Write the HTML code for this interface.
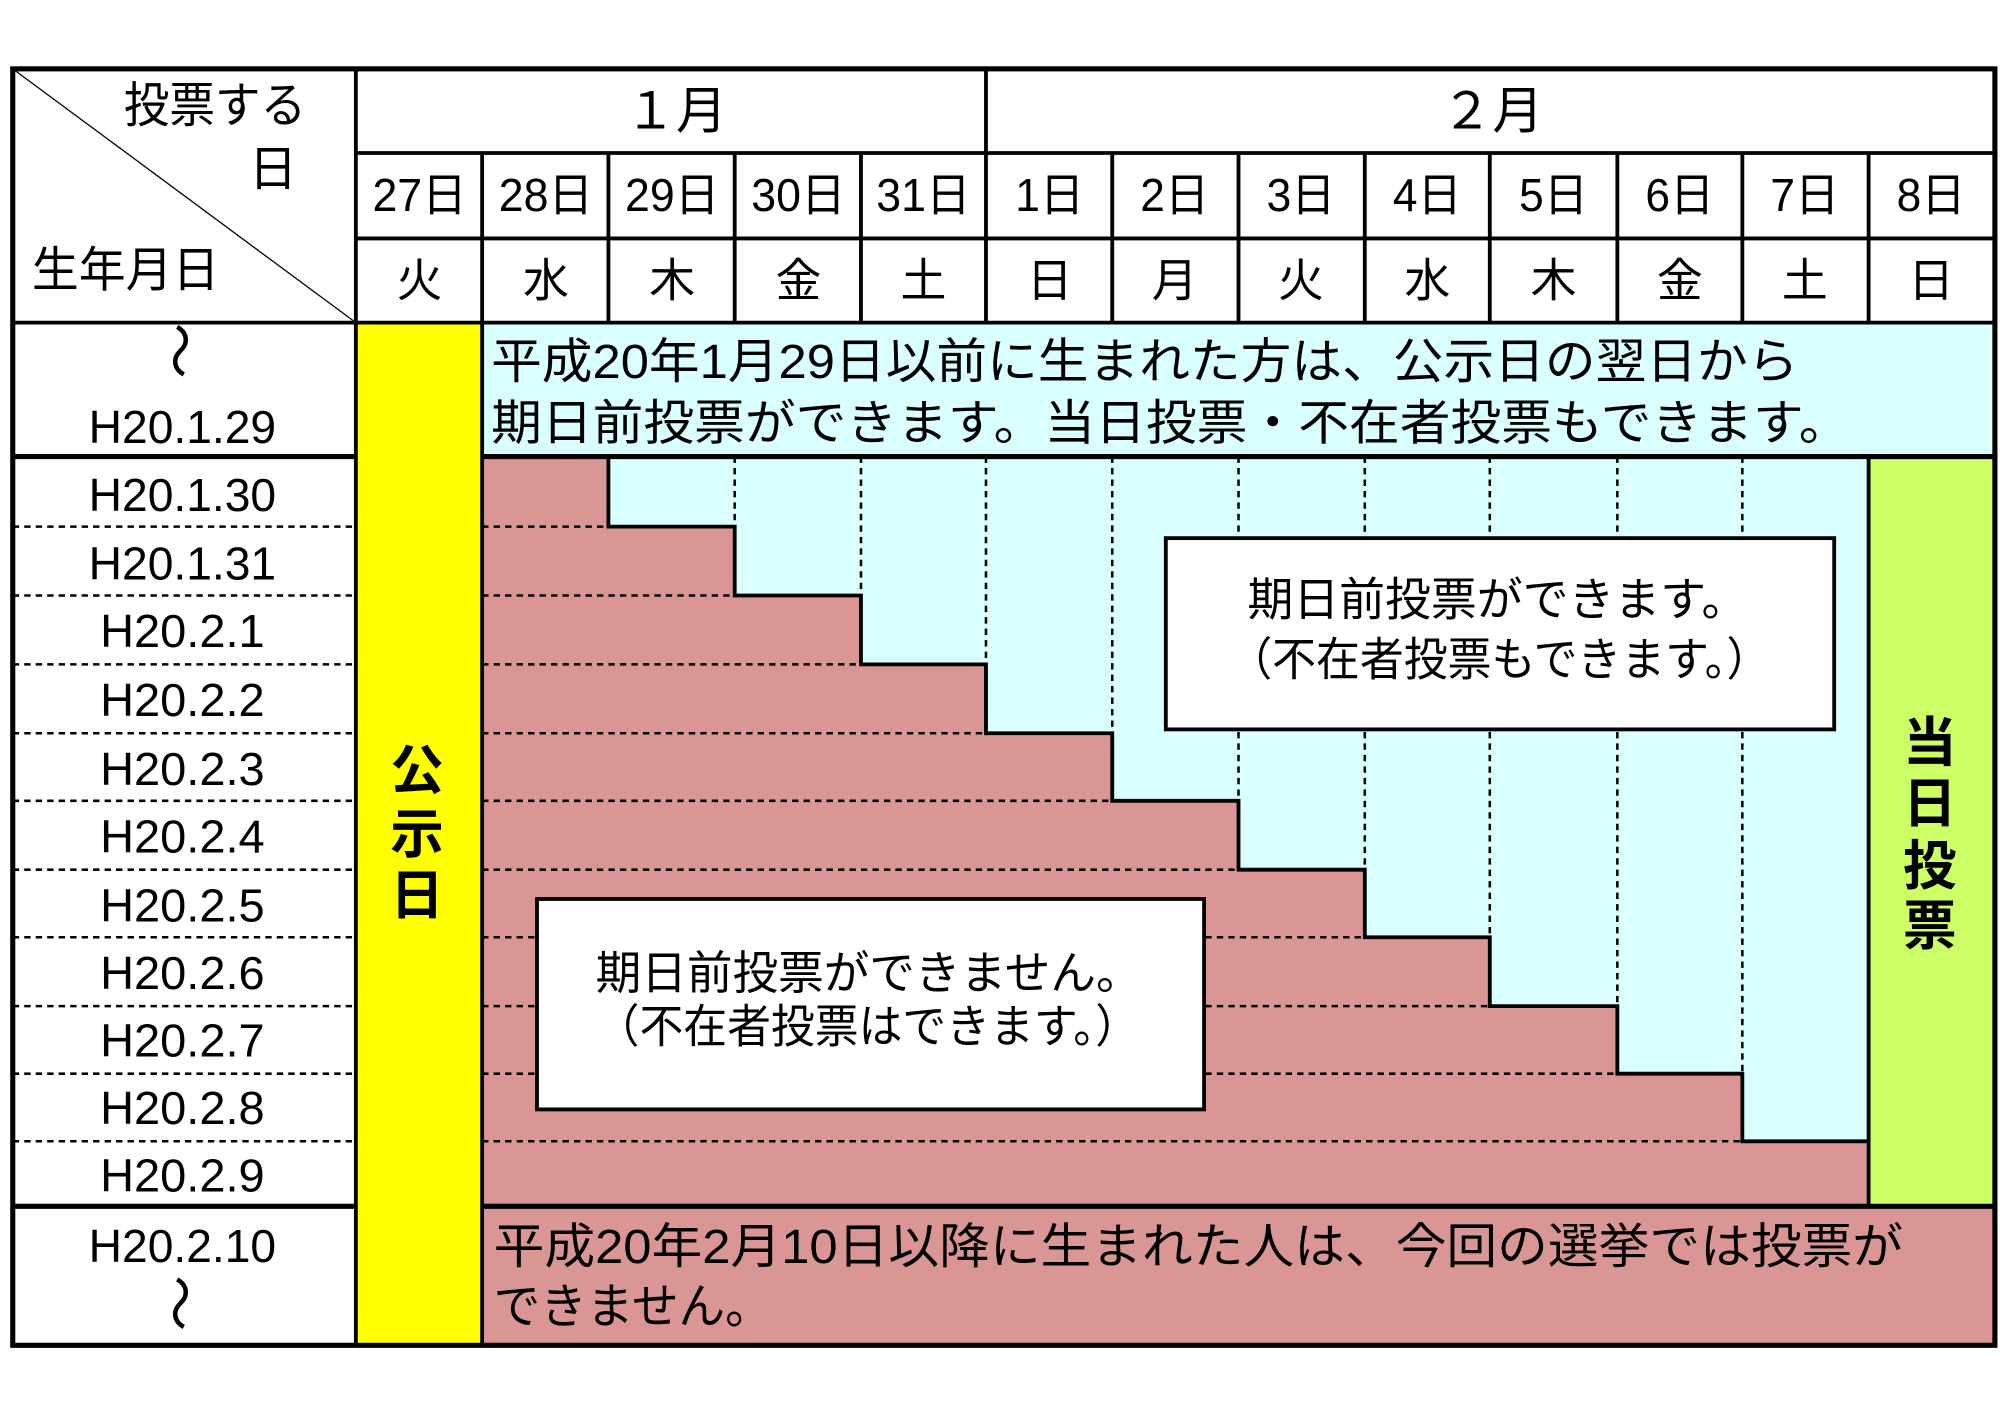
<!DOCTYPE html>
<html><head><meta charset="utf-8"><style>
html,body{margin:0;padding:0;background:#fff}
svg{display:block}
text{font-family:"Liberation Sans","Noto Sans CJK JP",sans-serif;fill:#000;dominant-baseline:central}
</style></head><body>
<svg width="2000" height="1418" viewBox="0 0 1568 1112" preserveAspectRatio="none" xmlns="http://www.w3.org/2000/svg">
<rect x="0" y="0" width="1568" height="1112" fill="#fff"/>
<rect x="279" y="253" width="99" height="802" fill="#ffff00"/>
<rect x="378" y="253" width="1186" height="105" fill="#d9ffff"/>
<rect x="378" y="358" width="1087" height="588" fill="#d9ffff"/>
<rect x="1465" y="358" width="99" height="588" fill="#ccff66"/>
<rect x="378" y="946" width="1186" height="109" fill="#d99694"/>
<g fill="#d99694">
<rect x="378" y="358" width="99" height="55"/>
<rect x="378" y="413" width="198" height="54"/>
<rect x="378" y="467" width="297" height="54"/>
<rect x="378" y="521" width="395" height="54"/>
<rect x="378" y="575" width="494" height="53"/>
<rect x="378" y="628" width="593" height="54"/>
<rect x="378" y="682" width="692" height="53"/>
<rect x="378" y="735" width="790" height="54"/>
<rect x="378" y="789" width="890" height="53"/>
<rect x="378" y="842" width="988" height="53"/>
<rect x="378" y="895" width="1087" height="51"/>
</g>
<g stroke="#000" stroke-width="2" stroke-dasharray="5,4" fill="none">
<path d="M378 413H477M378 467H576M378 521H675M378 575H773M378 628H872M378 682H971M378 735H1070M378 789H1168M378 842H1268M378 895H1366"/>
<path d="M576 358V413M675 358V467M773 358V521M872 358V575M971 358V628M1070 358V682M1168 358V735M1268 358V789M1366 358V842"/>
<path d="M10 413H279M10 467H279M10 521H279M10 575H279M10 628H279M10 682H279M10 735H279M10 789H279M10 842H279M10 895H279"/>
</g>
<path d="M477 358V413H576V467H675V521H773V575H872V628H971V682H1070V735H1168V789H1268V842H1366V895H1465" stroke="#000" stroke-width="3" fill="none"/>
<g stroke="#000" stroke-width="3" fill="none">
<path d="M279 120H1564M279 187H1564M10 253H1564"/>
<path d="M378 120V253M477 120V253M576 120V253M675 120V253M872 120V253M971 120V253M1070 120V253M1168 120V253M1268 120V253M1366 120V253M1465 120V253"/>
<path d="M773 54V253"/>
<path d="M279 54V1055M378 253V1055M1465 358V946"/>
<path d="M10 358H279M378 358H1564" stroke-width="4"/>
<path d="M10 946H279M378 946H1564" stroke-width="4"/>
</g>
<line x1="10" y1="54" x2="279" y2="253" stroke="#000" stroke-width="1"/>
<rect x="10" y="54" width="1554" height="1001" stroke="#000" stroke-width="4" fill="none"/>
<rect x="914" y="422" width="524" height="150" fill="#fff" stroke="#000" stroke-width="3"/>
<rect x="421" y="705" width="523" height="165" fill="#fff" stroke="#000" stroke-width="3"/>
<text x="97" y="83" font-size="38" textLength="143" lengthAdjust="spacingAndGlyphs">投票する</text>
<text x="195" y="133" font-size="38">日</text>
<text x="25" y="212" font-size="38" textLength="147" lengthAdjust="spacingAndGlyphs">生年月日</text>
<text x="530" y="87" font-size="40" text-anchor="middle">１月</text>
<text x="1170" y="87" font-size="40" text-anchor="middle">２月</text>
<g font-size="36" text-anchor="middle">
<text x="329" y="153" textLength="74" lengthAdjust="spacingAndGlyphs">27日</text>
<text x="428" y="153" textLength="74" lengthAdjust="spacingAndGlyphs">28日</text>
<text x="527" y="153" textLength="74" lengthAdjust="spacingAndGlyphs">29日</text>
<text x="626" y="153" textLength="74" lengthAdjust="spacingAndGlyphs">30日</text>
<text x="724" y="153" textLength="74" lengthAdjust="spacingAndGlyphs">31日</text>
<text x="823" y="153" textLength="54" lengthAdjust="spacingAndGlyphs">1日</text>
<text x="921" y="153" textLength="54" lengthAdjust="spacingAndGlyphs">2日</text>
<text x="1020" y="153" textLength="54" lengthAdjust="spacingAndGlyphs">3日</text>
<text x="1119" y="153" textLength="54" lengthAdjust="spacingAndGlyphs">4日</text>
<text x="1218" y="153" textLength="54" lengthAdjust="spacingAndGlyphs">5日</text>
<text x="1317" y="153" textLength="54" lengthAdjust="spacingAndGlyphs">6日</text>
<text x="1415" y="153" textLength="54" lengthAdjust="spacingAndGlyphs">7日</text>
<text x="1514" y="153" textLength="54" lengthAdjust="spacingAndGlyphs">8日</text>
<text x="329" y="220">火</text><text x="428" y="220">水</text><text x="527" y="220">木</text>
<text x="626" y="220">金</text><text x="724" y="220">土</text><text x="823" y="220">日</text>
<text x="921" y="220">月</text><text x="1020" y="220">火</text><text x="1119" y="220">水</text>
<text x="1218" y="220">木</text><text x="1317" y="220">金</text><text x="1415" y="220">土</text>
<text x="1514" y="220">日</text>
</g>
<g font-size="36" text-anchor="middle">
<text x="140" y="275" font-size="44" transform="rotate(90 140 275)">～</text>
<text x="143" y="335" textLength="147" lengthAdjust="spacingAndGlyphs">H20.1.29</text>
<text x="143" y="388" textLength="147" lengthAdjust="spacingAndGlyphs">H20.1.30</text>
<text x="143" y="442" textLength="147" lengthAdjust="spacingAndGlyphs">H20.1.31</text>
<text x="143" y="495" textLength="129" lengthAdjust="spacingAndGlyphs">H20.2.1</text>
<text x="143" y="549" textLength="129" lengthAdjust="spacingAndGlyphs">H20.2.2</text>
<text x="143" y="603" textLength="129" lengthAdjust="spacingAndGlyphs">H20.2.3</text>
<text x="143" y="656" textLength="129" lengthAdjust="spacingAndGlyphs">H20.2.4</text>
<text x="143" y="710" textLength="129" lengthAdjust="spacingAndGlyphs">H20.2.5</text>
<text x="143" y="763" textLength="129" lengthAdjust="spacingAndGlyphs">H20.2.6</text>
<text x="143" y="816" textLength="129" lengthAdjust="spacingAndGlyphs">H20.2.7</text>
<text x="143" y="869" textLength="129" lengthAdjust="spacingAndGlyphs">H20.2.8</text>
<text x="143" y="922" textLength="129" lengthAdjust="spacingAndGlyphs">H20.2.9</text>
<text x="143" y="977" textLength="147" lengthAdjust="spacingAndGlyphs">H20.2.10</text>
<text x="140" y="1022" font-size="44" transform="rotate(90 140 1022)">～</text>
</g>
<g font-size="42" font-weight="bold" text-anchor="middle">
<text x="327" y="605">公</text><text x="327" y="655">示</text><text x="327" y="703">日</text>
<text x="1513" y="583">当</text><text x="1513" y="631">日</text><text x="1513" y="680">投</text><text x="1513" y="727">票</text>
</g>
<g font-size="38">
<text x="385" y="284" textLength="1025" lengthAdjust="spacingAndGlyphs">平成20年1月29日以前に生まれた方は、公示日の翌日から</text>
<text x="385" y="332" textLength="1065" lengthAdjust="spacingAndGlyphs">期日前投票ができます。当日投票・不在者投票もできます。</text>
<text x="387" y="978" textLength="1105" lengthAdjust="spacingAndGlyphs">平成20年2月10日以降に生まれた人は、今回の選挙では投票が</text>
<text x="387" y="1025" textLength="218" lengthAdjust="spacingAndGlyphs">できません。</text>
</g>
<g font-size="36">
<text x="978" y="470" textLength="392" lengthAdjust="spacingAndGlyphs">期日前投票ができます。</text>
<text x="963" y="517" textLength="425" lengthAdjust="spacingAndGlyphs">（不在者投票もできます。）</text>
<text x="467" y="763" textLength="428" lengthAdjust="spacingAndGlyphs">期日前投票ができません。</text>
<text x="467" y="805" textLength="426" lengthAdjust="spacingAndGlyphs">（不在者投票はできます。）</text>
</g>
</svg>
</body></html>
